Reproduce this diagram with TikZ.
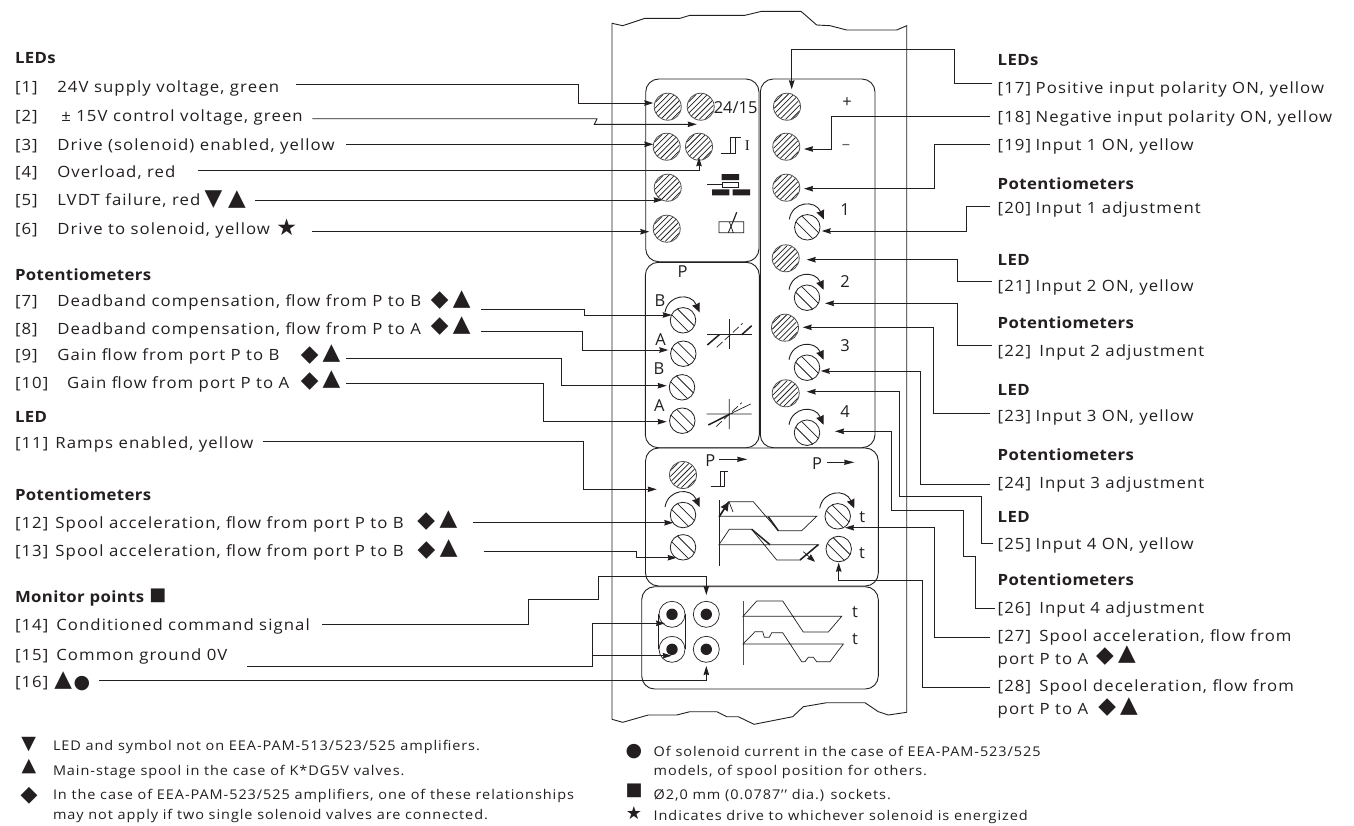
\documentclass[tikz,border=0pt]{standalone}
\usepackage{fontspec}
\setmainfont[FakeStretch=1.08,LetterSpace=7,BoldFeatures={LetterSpace=2.5}]{Open Sans}
\newfontfamily\panelf{Open Sans}
\newfontfamily\serf{Liberation Serif}
\newfontfamily\symf{DejaVu Sans}
\usetikzlibrary{arrows.meta,calc}
\definecolor{ink}{HTML}{231F20}
\tikzset{
 x=1pt,y=-1pt,
 every node/.style={inner sep=0pt,outer sep=0pt,text=ink},
 txt/.style={anchor=base west,font=\fontsize{15.5}{18}\selectfont},
 head/.style={anchor=base west,font=\fontsize{15.5}{18}\selectfont\bfseries},
 note/.style={anchor=base west,font=\fontsize{13.4}{16}\selectfont},
 paneltxt/.style={anchor=center,font=\panelf\fontsize{16.5}{19}\selectfont},
 symb/.style={anchor=center,font=\symf\fontsize{#1}{#1}\selectfont},
 symb/.default=23,
 wire/.style={draw=ink,line width=0.9pt},
 arr/.style={wire,-{Stealth[length=9pt,width=5.5pt,inset=0.8pt]}},
 panel/.style={draw=ink,line width=0.9pt,rounded corners=13pt},
 house/.style={draw=ink,line width=0.9pt},
 ledring/.style={circle,draw=ink!80,line width=0.8pt,minimum size=27pt},
 potring/.style={circle,draw=ink,line width=0.8pt,minimum size=25.5pt},
 sockring/.style={circle,draw=ink,line width=0.7pt,minimum size=26pt},
 sockdot/.style={circle,fill=ink,minimum size=11.4pt},
 thin line/.style={draw=ink,line width=0.7pt},
 thick line/.style={draw=ink,line width=1.5pt},
}
\newcommand\ledd[3]{\node[ledring] (#1) at (#2,#3) {};
 \begin{scope}[shift={(#2,#3)}]\clip (0,0) circle[radius=13];
 \foreach \d in {-16.8,-11.2,-5.6,0,5.6,11.2,16.8}{\draw[ink,line width=0.75pt] (\d-20,20)--(\d+20,-20);}
 \end{scope}}
\newcommand\pott[3]{\node[potring] (#1) at (#2,#3) {};
 \begin{scope}[shift={(#2,#3)}]\clip (0,0) circle[radius=12.7];
 \foreach \d in {-5.8,5.8}{\draw[ink,line width=0.75pt] (\d-20,-20)--(\d+20,20);}
 \end{scope}}
\newcommand\sock[3]{\node[sockring] (#1) at (#2,#3) {};\node[sockdot] (#1d) at (#2,#3) {};}
\newcommand\tip[4]{\coordinate (#1) at ($(#2)+(#3,#4)$);}
\newcommand\lab[7]{\node[txt] (l#1) at (15,#3) {\makebox[#2pt][l]{[#4]}#5};\coordinate (s#1) at (#6,#7);}
\newcommand\rab[7]{\node[txt] (l#1) at (997.7,#3) {\makebox[#2pt][l]{[#4]}#5};\coordinate (s#1) at (#6,#7);}
\begin{document}
\begin{tikzpicture}
\useasboundingbox[fill=white] (0,0) rectangle (1354,825);
% housing
\draw[house] (612,719.3) -- (612,23.3) -- (622.7,25.7) -- (645,18.3) -- (680,18.3) -- (690,15.3) -- (745,15.3) -- (761.7,11.3) -- (801,11.3) -- (816.7,25) -- (830,25.7) -- (846.7,30) -- (896.7,30) -- (906.7,25.7) -- (906.7,712.3);
\draw[house] (612,719.3) -- (622.7,722.3) -- (648.3,715) -- (676.7,715) -- (690,711.7) -- (716.7,711.7) -- (726.7,716.7) -- (738.3,716.7) -- (754,724.3) -- (792.7,716.7) -- (803.3,706.7) -- (826.7,702.7) -- (865,702.7) -- (878.3,711.7) -- (888.3,715) -- (906.7,712.3);
% panels
\draw[panel] (645.7,79) rectangle (759,261.7);
\draw[panel] (760.3,79) rectangle (875,447.7);
\draw[panel] (645.3,262.3) rectangle (759.3,447.7);
\draw[panel] (645.5,448) rectangle (878.3,586);
\draw[panel] (641.7,586.7) rectangle (878.3,689);
% LEDs and pots
\ledd{led1}{667.7}{106.7}\ledd{led2}{700.7}{106.7}\ledd{led3}{666.7}{146.7}\ledd{led4}{699}{146.7}\ledd{led5}{667.7}{187.7}\ledd{led6}{666.7}{228.7}
\ledd{led11}{683}{475}
\ledd{led17}{787}{106.7}\ledd{led18}{786.3}{146.7}\ledd{led19}{786.3}{187.7}\ledd{led21}{785.7}{258.3}\ledd{led23}{785}{327.7}\ledd{led25}{785.7}{393.3}
\pott{pot7}{683}{320.3}\pott{pot8}{683.3}{353.7}\pott{pot9}{682}{387.3}\pott{pot10}{682.3}{420.7}
\pott{pot12}{683}{515}\pott{pot13}{683}{547.3}
\pott{pot20}{807.3}{227.3}\pott{pot22}{807}{297.7}\pott{pot24}{807}{367.7}\pott{pot26}{807}{432.7}
\pott{pot27}{837.7}{516.3}\pott{pot28}{838.7}{549}
\foreach \p in {pot7,pot12,pot20,pot22,pot24,pot26,pot27}{
 \draw[wire,-{Stealth[length=9pt,width=8pt,inset=0.5pt]}] ($(\p)+(-18,-8)$) .. controls ($(\p)+(-15,-26)$) and ($(\p)+(8,-28)$) .. ($(\p)+(16.5,-8)$);
}
% sockets
\draw[thin line] (658.7,614.3) -- (658.7,649.3) (685.3,614.3) -- (685.3,649.3);
\sock{sa}{672}{614.3}\sock{sb}{706.3}{614.3}\sock{sc}{672}{649.3}\sock{sd}{706.3}{649.3}
% panel texts
\node[paneltxt] (p2415) at (735.7,107.3) {24/15};
\node[paneltxt] (pplus) at (847,102.7) {+};
\node[paneltxt,text=ink!70] (pminus) at (846,146.7) {–};
\node[anchor=center,font=\serf\fontsize{15}{17}\selectfont] (pI) at (747.3,146) {I};
\node[paneltxt] (n1) at (845,210) {1};\node[paneltxt] (n2) at (845,281.7) {2};\node[paneltxt] (n3) at (845,346) {3};\node[paneltxt] (n4) at (845,411.7) {4};
\node[paneltxt] (pP) at (682.7,271.7) {P};
\node[paneltxt] (pB1) at (660,300.7) {B};\node[paneltxt] (pA1) at (660.7,339.3) {A};\node[paneltxt] (pB2) at (659,368.3) {B};\node[paneltxt] (pA2) at (659.3,406) {A};
\node[paneltxt] (pP3) at (710.3,461) {P};\node[paneltxt] (pP4) at (817,464) {P};
\coordinate (a3) at (719.3,459.3);\coordinate (b3) at (747.3,459.3);\coordinate (a4) at (826.7,462.3);\coordinate (b4) at (854.3,462.3);
\draw[wire,-{Stealth[length=10pt,width=5pt,inset=0.5pt]}] (a3) -- (b3);
\draw[wire,-{Stealth[length=10pt,width=5pt,inset=0.5pt]}] (a4) -- (b4);
\node[paneltxt] (t1) at (862.3,516.7) {t};\node[paneltxt] (t2) at (862,552.7) {t};\node[paneltxt] (t3) at (855,611.7) {t};\node[paneltxt] (t4) at (855,639.3) {t};
% step symbols
\draw[thin line] (720.7,153.3) -- (735,153.3) -- (735,137.3) (730.7,153.3) -- (730.7,137.3) -- (740.7,137.3);
\draw[thin line] (710.7,486) -- (724,486) -- (724,471.7) (720,486) -- (720,471.7) -- (728.3,471.7);
% LVDT symbol
\fill[ink] (721.7,174) rectangle (739,180) (712,189.3) rectangle (729.3,195.3) (732.7,189.3) rectangle (750,195.3);
\draw[thin line] (722.3,182.3) rectangle (738.3,187.3) (707.3,184.7) -- (722.3,184.7);
% solenoid symbol
\draw[thin line] (719,221.7) rectangle (743.7,232.7) (729.3,221.7) -- (733.3,232.7);
\draw[draw=ink,line width=0.9pt] (728.3,232.7) -- (733,221.7);
\draw[thick line,line width=1.2pt] (733,221.7) -- (736.7,212.3);
% deadband symbols
\draw[thin line] (707.3,334.7) -- (751.7,334.7) (729.7,319.3) -- (729.7,349.3);
\draw[thick line] (707.3,345) -- (719.3,334.7) (741.7,334.7) -- (751.7,325.7);
\draw[thin line,dash pattern=on 8pt off 3pt] (716.7,347.3) -- (742.7,323.3);
\draw[thin line] (706.7,414) -- (751.7,414) (729.3,399) -- (729.3,429) (730,414) -- (750.7,404);
\draw[thick line] (708.3,425) -- (730,414);
\draw[thin line,dash pattern=on 8pt off 3pt] (716,426.7) -- (741.7,402.7);
% ramps
\draw[thin line] (719,500) -- (719,565.7);
\draw[thin line] (719,516.3) -- (816.7,516.3) -- (801.7,530.7) -- (778.3,530.7) -- (753.3,501.7) -- (728.3,501.7) -- cycle;
\draw[thick line] (768.3,516.7) -- (778.3,530.7);
\draw[thick line,-{Stealth[length=9pt,width=8pt,inset=0.5pt]}] (719.3,516.7) -- (729,501.7);
\draw[thin line] (729,501.7) -- (733,512);
\draw[thin line] (719,544.7) -- (818.3,544.7) -- (800,560) -- (776.7,560) -- (751.7,529.3) -- (729.3,529.3) -- cycle;
\draw[thick line] (751.7,529.3) -- (770,544.7) (800,560) -- (818.3,544.7);
\draw[thin line,-{Stealth[length=8pt,width=6pt,inset=0.5pt]}] (803.3,551.7) -- (815,561.7);
% monitor ramps
\draw[thin line,draw=ink!80,line width=1pt] (743,601) -- (743,665.3);
\draw[thin line] (743,616.3) -- (841.7,616.3) -- (828.3,632) -- (803.3,632) -- (782.7,601) -- (756.7,601) -- cycle;
\draw[thin line] (743,644) -- (843.3,644) -- (830,661.7) -- (816.7,661.7) -- (813.3,657.3) -- (808.3,657.3) -- (805,661.7) -- (801.7,661.7) -- (782.7,632.7) -- (771.7,632.7) -- (769.3,637.3) -- (764.3,637.3) -- (762.7,631.7) -- (755,631.7) -- cycle;
% left labels
\node[head] (hl1) at (15,63.3) {LEDs};
\lab{1}{42.3}{92.7}{1}{24V supply voltage, green}{295.8}{84}
\lab{2}{46.3}{121.7}{2}{± 15V control voltage, green}{312.4}{118.7}
\lab{3}{42.3}{150}{3}{Drive (solenoid) enabled, yellow}{346}{144.3}
\lab{4}{42.3}{177.7}{4}{Overload, red}{197.7}{170}
\lab{5}{42.3}{205.7}{5}{LVDT failure, red}{255}{200}
\lab{6}{42.3}{234}{6}{Drive to solenoid, yellow}{311.6}{231.7}
\node[head] (hl2) at (15,280) {Potentiometers};
\lab{7}{42.3}{306.7}{7}{Deadband compensation, flow from P to B}{481.2}{309}
\lab{8}{42.3}{334.7}{8}{Deadband compensation, flow from P to A}{481.2}{331}
\lab{9}{42.3}{360.7}{9}{Gain flow from port P to B}{346}{358}
\lab{10}{52.2}{388.7}{10}{Gain flow from port P to A}{346}{383.7}
\node[head] (hl3) at (15,422.3) {LED};
\lab{11}{40.4}{448.7}{11}{Ramps enabled, yellow}{263}{441.3}
\node[head] (hl4) at (15,500.7) {Potentiometers};
\lab{12}{40.4}{528.3}{12}{Spool acceleration, flow from port P to B}{472.5}{522.7}
\lab{13}{40.4}{556.7}{13}{Spool acceleration, flow from port P to B}{483.7}{551.7}
\node[head] (hl5) at (15,602.7) {Monitor points};
\lab{14}{41.3}{630.7}{14}{Conditioned command signal}{322.4}{624.7}
\lab{15}{41.3}{660}{15}{Common ground 0V}{247}{666}
\lab{16}{41.3}{687.7}{16}{}{99.2}{680}
% symbols in labels
\node[symb] (y5a) at (213.5,200) {▼};\node[symb] (y5b) at (237,200) {▲};
\node[symb] (y6) at (286.7,227.3) {★};
\node[symb] (y7a) at (439.7,300.7) {◆};\node[symb] (y7b) at (461.8,299.3) {▲};
\node[symb] (y8a) at (439.7,326.7) {◆};\node[symb] (y8b) at (461.8,325.7) {▲};
\node[symb] (y9a) at (309.6,355.7) {◆};\node[symb] (y9b) at (331.4,353.3) {▲};
\node[symb] (y10a) at (309.6,381.7) {◆};\node[symb] (y10b) at (331.4,379.3) {▲};
\node[symb] (y12a) at (426.3,521.7) {◆};\node[symb] (y12b) at (448.4,520) {▲};
\node[symb] (y13a) at (426.5,550.7) {◆};\node[symb] (y13b) at (448.6,549) {▲};
\node[symb=18] (ym) at (158,596) {■};
\node[symb] (y16a) at (63.3,680.7) {▲};\node[symb=19] (y16b) at (82,683.3) {●};
% right labels
\node[head] (hr1) at (997.7,65) {LEDs};
\rab{17}{38}{93.3}{17}{Positive input polarity ON, yellow}{992.3}{83.3}
\rab{18}{38}{122.7}{18}{Negative input polarity ON, yellow}{990}{116}
\rab{19}{38}{150.7}{19}{Input 1 ON, yellow}{990}{144.3}
\node[head] (hr2) at (997.7,189) {Potentiometers};
\rab{20}{38}{213.3}{20}{Input 1 adjustment}{990}{206}
\node[head] (hr3) at (997.7,265) {LED};
\rab{21}{38}{291.7}{21}{Input 2 ON, yellow}{991.7}{281}
\node[head] (hr4) at (997.7,328.3) {Potentiometers};
\rab{22}{41.6}{356}{22}{Input 2 adjustment}{991.7}{345}
\node[head] (hr5) at (997.7,395) {LED};
\rab{23}{38}{421.7}{23}{Input 3 ON, yellow}{990}{413.3}
\node[head] (hr6) at (997.7,460) {Potentiometers};
\rab{24}{41.6}{488.3}{24}{Input 3 adjustment}{990}{484.7}
\node[head] (hr7) at (997.7,522.7) {LED};
\rab{25}{38}{549.3}{25}{Input 4 ON, yellow}{993.3}{543.7}
\node[head] (hr8) at (997.7,585) {Potentiometers};
\rab{26}{41.6}{613.3}{26}{Input 4 adjustment}{995}{608.3}
\rab{27}{41.6}{641.7}{27}{Spool acceleration, flow from}{990}{637.7}
\node[txt] (l27b) at (997.7,664) {port P to A};
\rab{28}{41.6}{691}{28}{Spool deceleration, flow from}{990}{687.7}
\node[txt] (l28b) at (997.7,714) {port P to A};
\node[symb] (y27a) at (1105,656.7) {◆};\node[symb] (y27b) at (1127,655) {▲};
\node[symb] (y28a) at (1107.3,708) {◆};\node[symb] (y28b) at (1129,706.7) {▲};
% notes
\node[symb=19] (k1) at (28.6,745) {▼};\node[note] (k1t) at (53,750) {LED and symbol not on EEA-PAM-513/523/525 amplifiers.};
\node[symb=19] (k2) at (29,767) {▲};\node[note] (k2t) at (53,775) {Main-stage spool in the case of K*DG5V valves.};
\node[symb=22] (k3) at (29,795.7) {◆};\node[note] (k3t) at (53,799.3) {In the case of EEA-PAM-523/525 amplifiers, one of these relationships};
\node[note] (k3u) at (53,819.3) {may not apply if two single solenoid valves are connected.};
\node[symb=19] (k4) at (634,751.7) {●};\node[note] (k4t) at (653.7,756) {Of solenoid current in the case of EEA-PAM-523/525};
\node[note] (k4u) at (653.7,775) {models, of spool position for others.};
\node[symb=18] (k5) at (634,791) {■};\node[note] (k5t) at (653.7,799.3) {Ø2,0 mm (0.0787'{}' dia.) sockets.};
\node[symb=18] (k6) at (634,813.5) {★};\node[note] (k6t) at (653.7,820.5) {Indicates drive to whichever solenoid is energized};
% connector tips
\tip{t1x}{led1}{-14.4}{-3.7}\tip{t2x}{led2}{-4}{17.6}\tip{t3x}{led3}{-13.4}{-2.4}\tip{t4x}{led4}{0}{10.6}\tip{t5x}{led5}{-5}{12.3}\tip{t6x}{led6}{-17.4}{3}
\tip{t7x}{pot7}{-11.3}{-5.3}\tip{t8x}{pot8}{-15}{-3.7}\tip{t9x}{pot9}{-15.3}{-1.6}\tip{t10x}{pot10}{-15.6}{1}
\tip{t11x}{led11}{-26.3}{14.3}\tip{t12x}{pot12}{-9.7}{7.7}\tip{t13x}{pot13}{-6.3}{10.4}
\tip{t14x}{sb}{0}{-19.3}\tip{t15a}{sa}{-7}{9}\tip{t15b}{sc}{-0.3}{6.4}\tip{t16x}{sd}{0}{16.7}
\tip{t17x}{led17}{4.7}{-17.4}\tip{t18x}{led18}{17.7}{2.3}\tip{t19x}{led19}{17.7}{1}\tip{t20x}{pot20}{14.4}{3.7}\tip{t21x}{led21}{21}{1.4}
\tip{t22x}{pot22}{18}{5.6}\tip{t23x}{led23}{17.7}{-0.4}\tip{t24x}{pot24}{13.7}{3.3}\tip{t25x}{led25}{21}{-1.6}\tip{t26x}{pot26}{28}{-1.4}
\tip{t27x}{pot27}{7.3}{11.4}\tip{t28x}{pot28}{0}{13.7}
% left connectors
\draw[arr] (s1) -- (578,84) |- (t1x);
\draw[arr] (s2) -- (597,118.7) -- (594.3,124.3) -- (t2x);
\draw[arr] (s3) -- (t3x);
\draw[arr] (s4) -| (t4x);
\draw[arr] (s5) -- (t5x);
\draw[arr] (s6) -- (t6x);
\draw[arr] (s7) -- (584.4,309) |- (t7x);
\draw[arr] (s8) -- (582.5,331) |- (t8x);
\draw[arr] (s9) -- (561.9,358) |- (t9x);
\draw[arr] (s10) -- (543.7,383.7) |- (t10x);
\draw[arr] (s11) -- (583.6,441.3) |- (t11x);
\draw[arr] (s12) -- (t12x);
\draw[arr] (s13) -- (636,551.7) |- (t13x);
\draw[arr] (s14) -- (528.2,624.7) -- (528.2,599.3) -- (598,599.3) -- (598,576) -| (t14x);
\coordinate (j15) at (592.7,666);
\draw[wire] (s15) -- (j15);
\draw[arr] (j15) |- (t15a);
\draw[arr] (j15) |- (t15b);
\draw[arr] (s16) -| (t16x);
% right connectors
\draw[arr] (s17) -- (954,83.3) -- (954,49) -| (t17x);
\draw[arr] (s18) -- (831.7,116) |- (t18x);
\draw[arr] (s19) -- (934,144.3) |- (t19x);
\draw[arr] (s20) -- (966.7,206) |- (t20x);
\draw[arr] (s21) -- (957.3,281) |- (t21x);
\draw[arr] (s22) -- (957.3,345) |- (t22x);
\draw[arr] (s23) -- (933.3,413.3) |- (t23x);
\draw[arr] (s24) -- (920.7,484.7) |- (t24x);
\draw[arr] (s25) -- (981.7,543.7) -- (981.7,496) -- (899.3,496) |- (t25x);
\draw[arr] (s26) -- (975.7,608.3) -- (975.7,556) -- (963.3,556) -- (963.3,510.7) -- (891.3,510.7) |- (t26x);
\draw[arr] (s27) -- (934,637.7) |- (t27x);
\draw[arr] (s28) -- (922,687.7) -- (922,580.7) -| (t28x);
\end{tikzpicture}
\end{document}
